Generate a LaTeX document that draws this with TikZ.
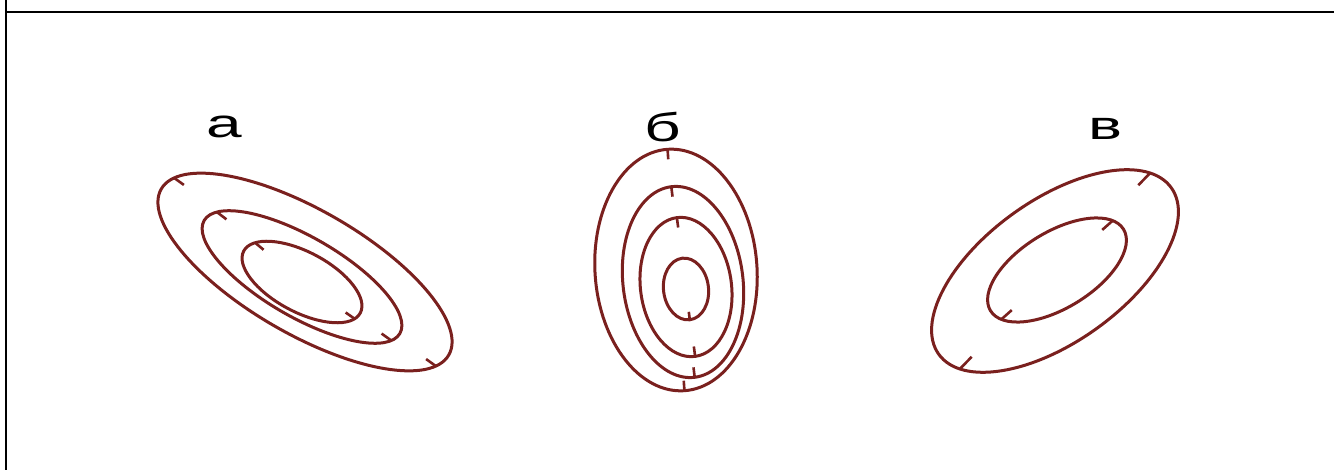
\documentclass[tikz,border=0pt]{standalone}
\usepackage{fontspec}
\setmainfont{Liberation Sans}
\usetikzlibrary{calc}
\definecolor{curve}{RGB}{122,32,30}
\tikzset{
  ell/.style={draw=curve, line width=3pt},
  tick/.style={draw=curve, line width=2.6pt},
  frameline/.style={draw=black, line width=2.6pt},
  lab/.style={anchor=base, inner sep=0pt, font=\fontsize{40}{40}\selectfont}
}
% tick on an ellipse: angle, x radius, y radius, length
\newcommand\ellTick[4]{\draw[tick] (#1:#2pt and #3pt) -- ($(#1:#2pt and #3pt)!#4pt!(0,0)$);}
\newcommand\ellDraw[2]{\draw[ell] (0,0) ellipse [x radius=#1pt, y radius=#2pt];}
\begin{document}
\begin{tikzpicture}[x=1pt,y=1pt]
\useasboundingbox (0,0) rectangle (1334,-470);
% frame lines
\draw[frameline] (6,0) -- (6,-470);
\draw[frameline] (6,-12) -- (1334,-12);

% labels
\node[lab] (la) at (224,-138) {\scalebox{1.6}[1]{а}};
\node[lab] (lb) at (663,-142) {\scalebox{1.6}[1]{б}};
\node[lab] (lv) at (1105,-140) {\scalebox{1.6}[1]{в}};

% group a
\begin{scope}[shift={(305,-272)}, rotate=-30]
  \ellDraw{166}{62}
  \ellTick{165}{166}{62}{12}
  \ellTick{345}{166}{62}{12}
\end{scope}
\begin{scope}[shift={(302,-277)}, rotate=-30]
  \ellDraw{113}{40}
  \ellTick{160}{113}{40}{12}
  \ellTick{345}{113}{40}{12}
\end{scope}
\begin{scope}[shift={(302,-282)}, rotate=-28]
  \ellDraw{66}{30}
  \ellTick{155}{66}{30}{11}
  \ellTick{345}{66}{30}{11}
\end{scope}

% group b
\begin{scope}[shift={(676,-270)}, rotate=4]
  \ellDraw{81}{121}
  \ellTick{90}{81}{121}{10}
  \ellTick{270}{81}{121}{10}
\end{scope}
\begin{scope}[shift={(683,-282)}, rotate=7]
  \ellDraw{60}{96}
  \ellTick{90}{60}{96}{10}
  \ellTick{270}{60}{96}{10}
\end{scope}
\begin{scope}[shift={(686,-287)}, rotate=7.5]
  \ellDraw{45.5}{70}
  \ellTick{90}{45.5}{70}{10}
  \ellTick{270}{45.5}{70}{10}
\end{scope}
\begin{scope}[shift={(686,-289)}, rotate=7]
  \ellDraw{22.5}{31}
  \ellTick{270}{22.5}{31}{8}
\end{scope}

% group v
\begin{scope}[shift={(1055,-271)}, rotate=35.6]
  \ellDraw{143}{71}
  \ellTick{20}{143}{71}{17}
  \ellTick{200}{143}{71}{17}
\end{scope}
\begin{scope}[shift={(1057,-270)}, rotate=31.5]
  \ellDraw{78}{38}
  \ellTick{20}{78}{38}{14}
  \ellTick{200}{78}{38}{14}
\end{scope}
\end{tikzpicture}
\end{document}
